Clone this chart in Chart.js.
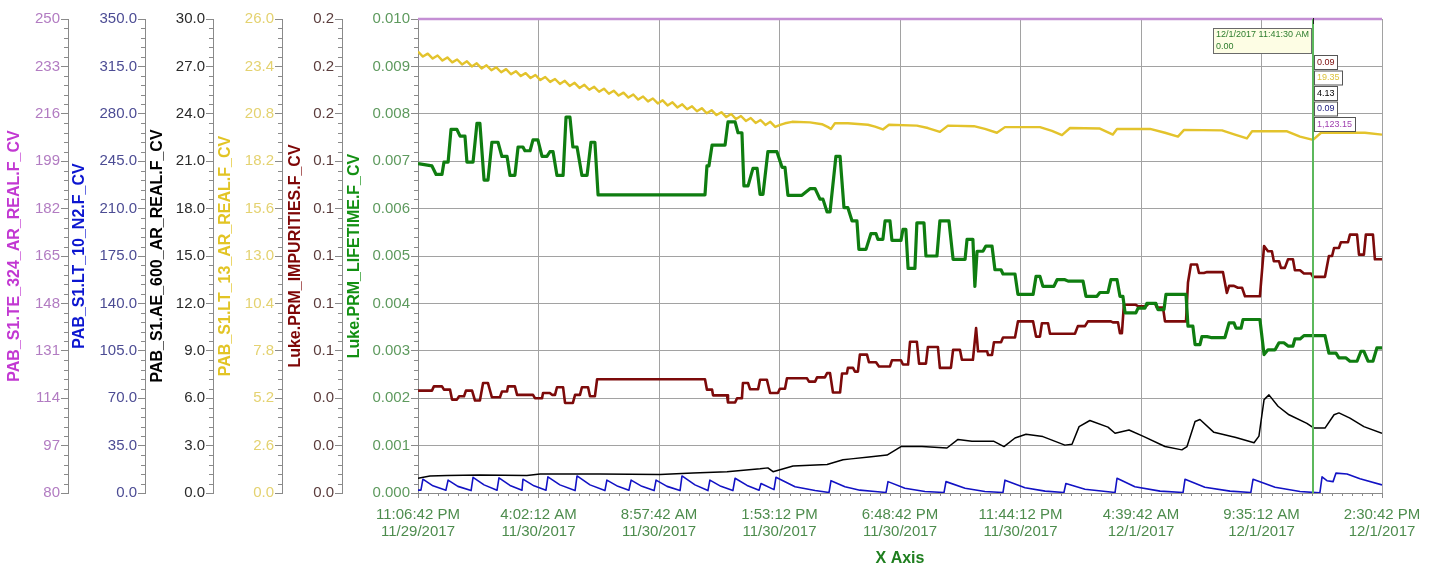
<!DOCTYPE html>
<html>
<head>
<meta charset="utf-8">
<title>PRM trend</title>
<script src="https://cdn.jsdelivr.net/npm/chart.js@4.4.1/dist/chart.umd.min.js"></script>
<style>
  html, body { margin: 0; padding: 0; background: #fff; }
</style>
</head>
<body>
<canvas id="trend" width="1442" height="568"></canvas>
<script>
// x values are hours after 11/29/2017 11:06:42 PM
const timeTicks = [0, 4.925, 9.85, 14.775, 19.7, 24.625, 29.55, 34.475, 39.4];
const timeLabels = [
  ["11:06:42 PM", "11/29/2017"],
  ["4:02:12 AM", "11/30/2017"],
  ["8:57:42 AM", "11/30/2017"],
  ["1:53:12 PM", "11/30/2017"],
  ["6:48:42 PM", "11/30/2017"],
  ["11:44:12 PM", "11/30/2017"],
  ["4:39:42 AM", "12/1/2017"],
  ["9:35:12 AM", "12/1/2017"],
  ["2:30:42 PM", "12/1/2017"],
];

const tempTicks = [80, 97, 114, 131, 148, 165, 182, 199, 216, 233, 250];
const n2Ticks = [0, 35, 70, 105, 140, 175, 210, 245, 280, 315, 350];
const aeTicks = [0, 3, 6, 9, 12, 15, 18, 21, 24, 27, 30];
const lt13Ticks = [0, 2.6, 5.2, 7.8, 10.4, 13, 15.6, 18.2, 20.8, 23.4, 26];
const impTicks = [0, 0.02, 0.04, 0.06, 0.08, 0.1, 0.12, 0.14, 0.16, 0.18, 0.2];
const lifeTicks = [0, 0.001, 0.002, 0.003, 0.004, 0.005, 0.006, 0.007, 0.008, 0.009, 0.01];

// [hours, value]
const lifetimePoints = [
  [0, 0.00695], [0.57, 0.0069], [0.74, 0.00672], [0.98, 0.00672], [1.06, 0.00698], [1.23, 0.00698],
  [1.35, 0.00767], [1.59, 0.00767], [1.72, 0.00753], [1.92, 0.00753], [2.0, 0.00698], [2.25, 0.00698],
  [2.41, 0.0078], [2.53, 0.0078], [2.7, 0.0066], [2.86, 0.0066], [3.02, 0.0074], [3.27, 0.0074],
  [3.43, 0.0071], [3.64, 0.0071], [3.76, 0.0067], [3.96, 0.0067], [4.09, 0.0073], [4.29, 0.0073],
  [4.37, 0.00722], [4.58, 0.00722], [4.7, 0.00745], [4.9, 0.00745], [5.07, 0.0071], [5.27, 0.0071],
  [5.39, 0.0072], [5.52, 0.0072], [5.68, 0.0067], [5.93, 0.0067], [6.05, 0.00793], [6.21, 0.00793],
  [6.33, 0.0073], [6.5, 0.0073], [6.7, 0.0067], [6.91, 0.0067], [7.07, 0.0074], [7.23, 0.0074],
  [7.36, 0.00629], [11.73, 0.00629], [11.81, 0.0069], [11.89, 0.0069], [12.02, 0.00734], [12.55, 0.00734],
  [12.67, 0.00783], [12.96, 0.00783], [13.08, 0.0076], [13.24, 0.0076], [13.32, 0.00648], [13.49, 0.00648],
  [13.69, 0.00685], [13.86, 0.00685], [13.98, 0.0063], [14.1, 0.0063], [14.3, 0.0072], [14.67, 0.0072],
  [14.88, 0.00687], [15.0, 0.00687], [15.12, 0.00628], [15.69, 0.00628], [16.02, 0.00642], [16.23, 0.00642],
  [16.43, 0.0062], [16.55, 0.0062], [16.72, 0.00593], [16.84, 0.00593], [17.08, 0.0071], [17.25, 0.0071],
  [17.41, 0.00602], [17.57, 0.00602], [17.74, 0.00574], [17.94, 0.00574], [18.02, 0.00514], [18.31, 0.00514],
  [18.51, 0.00547], [18.72, 0.00547], [18.8, 0.00535], [19.0, 0.00535], [19.09, 0.00574], [19.29, 0.00574],
  [19.37, 0.00533], [19.74, 0.00533], [19.82, 0.00556], [19.94, 0.00556], [20.03, 0.00474], [20.31, 0.00474],
  [20.39, 0.0057], [20.68, 0.0057], [20.76, 0.005], [21.21, 0.005], [21.33, 0.00574], [21.7, 0.00574],
  [21.87, 0.00493], [22.36, 0.00493], [22.44, 0.00535], [22.68, 0.00535], [22.76, 0.00436], [22.85, 0.0051],
  [23.09, 0.0051], [23.21, 0.00521], [23.46, 0.00521], [23.58, 0.00471], [23.83, 0.00471], [23.91, 0.00462],
  [24.4, 0.00462], [24.52, 0.00419], [25.14, 0.00419], [25.26, 0.00457], [25.42, 0.00457], [25.54, 0.00436],
  [25.99, 0.00436], [26.12, 0.0045], [26.44, 0.0045], [26.57, 0.00447], [27.18, 0.00447], [27.3, 0.00415],
  [27.75, 0.00415], [27.87, 0.00423], [28.2, 0.00423], [28.32, 0.0045], [28.57, 0.0045], [28.69, 0.00415],
  [28.81, 0.00415], [28.9, 0.0038], [29.34, 0.0038], [29.43, 0.0039], [29.71, 0.0039], [29.79, 0.004],
  [30.16, 0.004], [30.24, 0.00387], [30.49, 0.00387], [30.57, 0.00419], [31.39, 0.00419], [31.47, 0.00352],
  [31.67, 0.00352], [31.76, 0.00313], [31.96, 0.00313], [32.04, 0.0033], [32.25, 0.0033], [32.41, 0.00328],
  [32.98, 0.00328], [33.15, 0.00359], [33.35, 0.00359], [33.43, 0.00348], [33.64, 0.00348], [33.72, 0.00366],
  [34.41, 0.00366], [34.58, 0.00292], [34.74, 0.00302], [35.03, 0.00302], [35.19, 0.00317], [35.39, 0.00317],
  [35.56, 0.0031], [35.76, 0.0031], [35.84, 0.00325], [36.05, 0.00325], [36.21, 0.00332], [37.07, 0.00332],
  [37.23, 0.00295], [37.52, 0.00295], [37.64, 0.00285], [37.93, 0.00285], [38.09, 0.00278], [38.38, 0.00278],
  [38.54, 0.00299], [38.66, 0.00299], [38.83, 0.00278], [39.03, 0.00278], [39.19, 0.00306], [39.4, 0.00306],
];

const impurityPoints = [
  [0, 0.0432], [0.57, 0.0432], [0.65, 0.045], [0.98, 0.045], [1.06, 0.0436], [1.31, 0.0436],
  [1.39, 0.0394], [1.59, 0.0394], [1.68, 0.0408], [1.88, 0.0408], [1.96, 0.0432], [2.21, 0.0432],
  [2.33, 0.039], [2.53, 0.039], [2.66, 0.0464], [2.86, 0.0464], [3.02, 0.0404], [3.35, 0.0404],
  [3.43, 0.0428], [3.64, 0.0428], [3.68, 0.045], [3.96, 0.045], [4.05, 0.0414], [4.7, 0.0414],
  [4.78, 0.04], [5.07, 0.04], [5.11, 0.0422], [5.39, 0.0422], [5.48, 0.0414], [5.6, 0.0414],
  [5.68, 0.0446], [5.93, 0.0446], [6.01, 0.038], [6.33, 0.038], [6.42, 0.0414], [6.62, 0.0414],
  [6.7, 0.0446], [6.95, 0.0446], [7.03, 0.0408], [7.23, 0.0408], [7.32, 0.048], [11.73, 0.048],
  [11.81, 0.0436], [12.02, 0.0436], [12.06, 0.0412], [12.63, 0.0412], [12.67, 0.0382], [12.96, 0.0382],
  [13.04, 0.04], [13.24, 0.04], [13.28, 0.0464], [13.49, 0.0464], [13.57, 0.0438], [13.9, 0.0438],
  [13.98, 0.0478], [14.26, 0.0478], [14.39, 0.0422], [14.71, 0.0422], [14.79, 0.044], [15.0, 0.044],
  [15.08, 0.0484], [15.9, 0.0484], [15.98, 0.047], [16.23, 0.047], [16.31, 0.0488], [16.63, 0.0488],
  [16.72, 0.0506], [16.84, 0.0506], [16.96, 0.0424], [17.25, 0.0424], [17.33, 0.0504], [17.53, 0.0504],
  [17.57, 0.0528], [17.78, 0.0528], [17.86, 0.0512], [17.98, 0.0512], [18.06, 0.0584], [18.35, 0.0584],
  [18.43, 0.0552], [18.72, 0.0552], [18.84, 0.0534], [19.29, 0.0534], [19.37, 0.056], [19.74, 0.056],
  [19.82, 0.0542], [20.03, 0.0542], [20.11, 0.0638], [20.39, 0.0638], [20.48, 0.0546], [20.76, 0.0546],
  [20.84, 0.0616], [21.25, 0.0616], [21.33, 0.0528], [21.78, 0.0528], [21.87, 0.0604], [22.15, 0.0604],
  [22.23, 0.0562], [22.68, 0.0562], [22.81, 0.0696], [22.89, 0.0598], [23.26, 0.0598], [23.3, 0.0582],
  [23.46, 0.0582], [23.54, 0.0636], [23.83, 0.0636], [23.91, 0.0656], [24.4, 0.0656], [24.52, 0.0724],
  [25.14, 0.0724], [25.26, 0.066], [25.42, 0.066], [25.5, 0.0716], [25.75, 0.0716], [25.83, 0.0672],
  [26.85, 0.0672], [26.97, 0.0704], [27.26, 0.0704], [27.38, 0.0724], [28.32, 0.0724], [28.4, 0.072],
  [28.61, 0.072], [28.69, 0.0674], [28.77, 0.0674], [28.85, 0.0794], [29.34, 0.0794], [29.43, 0.0788],
  [29.75, 0.0788], [29.88, 0.08], [30.12, 0.08], [30.2, 0.0782], [30.45, 0.0782], [30.53, 0.0724],
  [31.39, 0.0724], [31.47, 0.0888], [31.59, 0.0964], [31.84, 0.0964], [31.92, 0.0928], [32.12, 0.0928],
  [32.25, 0.0932], [32.9, 0.0932], [33.06, 0.0844], [33.15, 0.0874], [33.35, 0.0874], [33.51, 0.0866],
  [33.68, 0.0866], [33.8, 0.083], [34.41, 0.083], [34.58, 0.1042], [34.74, 0.102], [34.9, 0.102],
  [34.98, 0.0978], [35.19, 0.0978], [35.27, 0.095], [35.43, 0.095], [35.56, 0.0986], [35.76, 0.0986],
  [35.84, 0.094], [36.05, 0.094], [36.21, 0.0926], [36.5, 0.0926], [36.58, 0.0912], [37.07, 0.0912],
  [37.23, 0.1], [37.36, 0.1], [37.44, 0.1034], [37.64, 0.1034], [37.72, 0.1058], [38.01, 0.1058],
  [38.09, 0.109], [38.38, 0.109], [38.46, 0.1006], [38.66, 0.1006], [38.74, 0.109], [39.03, 0.109],
  [39.11, 0.0986], [39.4, 0.0986],
];

const lt13Points = [
  [0, 24.21], [0.2, 23.94], [0.4, 24.1], [0.6, 23.83], [0.8, 24.0], [1.0, 23.72], [1.2, 23.89],
  [1.4, 23.62], [1.6, 23.78], [1.8, 23.51], [2.0, 23.68], [2.2, 23.4], [2.4, 23.57], [2.6, 23.29],
  [2.8, 23.46], [3.0, 23.19], [3.2, 23.35], [3.4, 23.08], [3.6, 23.25], [3.8, 22.97], [4.0, 23.14],
  [4.2, 22.87], [4.4, 23.03], [4.6, 22.76], [4.8, 22.93], [5.0, 22.65], [5.2, 22.82], [5.4, 22.55],
  [5.6, 22.71], [5.8, 22.44], [6.0, 22.61], [6.2, 22.33], [6.4, 22.5], [6.6, 22.22], [6.8, 22.39],
  [7.0, 22.12], [7.2, 22.28], [7.4, 22.01], [7.6, 22.18], [7.8, 21.9], [8.0, 22.07], [8.2, 21.8],
  [8.4, 21.96], [8.6, 21.69], [8.8, 21.86], [9.0, 21.58], [9.2, 21.75], [9.4, 21.48], [9.6, 21.64],
  [9.8, 21.37], [10.0, 21.54], [10.2, 21.26], [10.4, 21.43], [10.6, 21.15], [10.8, 21.32], [11.0, 21.05],
  [11.2, 21.21], [11.4, 20.94], [11.6, 21.11], [11.8, 20.83], [12.0, 21.0], [12.2, 20.73], [12.4, 20.89],
  [12.6, 20.62], [12.8, 20.79], [13.0, 20.51], [13.2, 20.68], [13.4, 20.41], [13.6, 20.57], [13.8, 20.3],
  [14.0, 20.46], [14.2, 20.19], [14.4, 20.36], [14.6, 20.08], [14.8, 20.19], [15.0, 20.28], [15.29, 20.36],
  [16.02, 20.33], [16.51, 20.23], [16.76, 20.07], [16.88, 19.97], [17.04, 20.28], [17.57, 20.28],
  [18.39, 20.2], [18.68, 20.1], [19.0, 19.94], [19.25, 20.2], [20.39, 20.15], [20.84, 20.02],
  [21.33, 19.81], [21.66, 20.15], [22.72, 20.12], [23.17, 19.97], [23.66, 19.76], [23.99, 20.07],
  [25.42, 20.07], [25.91, 19.86], [26.32, 19.63], [26.65, 20.02], [27.87, 19.99], [28.4, 19.66],
  [28.57, 19.97], [29.92, 19.97], [30.53, 19.76], [31.06, 19.55], [31.31, 19.92], [32.86, 19.89],
  [33.39, 19.66], [33.88, 19.45], [34.09, 19.84], [35.52, 19.84], [36.05, 19.55], [36.58, 19.37],
  [36.91, 19.76], [38.7, 19.76], [39.4, 19.66],
];

const ae600Points = [
  [0, 0.93], [0.49, 1.08], [1.19, 1.11], [2.53, 1.14], [4.45, 1.11], [4.99, 1.2], [7.44, 1.2],
  [9.89, 1.17], [11.24, 1.26], [12.63, 1.35], [13.98, 1.53], [14.3, 1.59], [14.51, 1.35], [15.33, 1.71],
  [16.72, 1.8], [17.37, 2.1], [17.7, 2.16], [18.43, 2.28], [19.17, 2.4], [19.74, 2.94], [20.6, 2.94],
  [21.62, 2.85], [22.07, 3.39], [22.64, 3.27], [23.54, 3.27], [23.95, 2.94], [24.4, 3.48], [24.85, 3.72],
  [25.54, 3.57], [26.44, 3.03], [26.73, 3.09], [27.02, 4.2], [27.46, 4.59], [28.2, 4.17], [28.49, 3.78],
  [29.06, 3.99], [29.67, 3.57], [30.53, 2.94], [31.22, 2.73], [31.43, 2.94], [31.76, 4.53], [31.96, 4.65],
  [32.53, 3.84], [33.43, 3.51], [34.17, 3.18], [34.37, 3.6], [34.58, 5.91], [34.78, 6.21], [35.15, 5.49],
  [35.6, 4.95], [36.33, 4.41], [36.62, 4.11], [37.07, 4.11], [37.44, 4.95], [37.64, 5.07], [38.09, 4.74],
  [38.66, 4.2], [39.4, 3.78],
];

const n2Points = [
  [0, 2.1], [0.12, 2.1], [0.2, 10.2], [0.61, 5.3], [1.14, 2.1], [1.23, 9.5], [1.63, 4.9], [2.17, 1.8],
  [2.25, 11.6], [2.7, 6.0], [3.23, 2.1], [3.31, 11.2], [3.76, 5.6], [4.25, 2.1], [4.29, 10.2], [4.74, 5.3],
  [5.23, 2.1], [5.31, 11.9], [5.8, 6.0], [6.42, 1.8], [6.5, 12.6], [7.03, 6.0], [7.64, 1.8], [7.72, 9.5],
  [8.17, 4.9], [8.62, 2.1], [8.71, 9.5], [9.15, 4.9], [9.65, 1.8], [9.73, 9.5], [10.18, 4.9], [10.71, 1.8],
  [10.79, 12.6], [11.32, 6.0], [11.85, 1.8], [11.93, 9.5], [12.38, 4.9], [12.87, 1.8], [12.96, 10.9],
  [13.45, 5.6], [13.94, 2.1], [14.02, 7.0], [14.55, 2.5], [14.63, 11.6], [15.41, 4.6], [16.23, 1.8],
  [16.8, 0.4], [16.88, 9.1], [17.45, 4.6], [18.06, 2.1], [18.68, 1.1], [19.13, 0.4], [19.21, 8.4],
  [19.9, 3.5], [20.72, 1.1], [21.5, 0.4], [21.58, 8.4], [22.36, 3.5], [23.17, 1.1], [23.91, 0.4],
  [23.99, 9.5], [24.81, 3.9], [25.63, 1.4], [26.4, 0.4], [26.48, 7.0], [27.26, 2.8], [28.49, 0.4],
  [28.57, 10.9], [29.3, 4.6], [30.33, 1.4], [31.27, 0.4], [31.35, 10.2], [32.16, 4.2], [33.19, 1.4],
  [34.04, 0.4], [34.13, 10.2], [35.03, 4.2], [36.05, 1.1], [36.86, 0.1], [36.95, 11.9], [37.15, 9.1],
  [37.4, 8.4], [37.52, 14.7], [37.97, 14.0], [38.5, 10.5], [39.4, 6.0],
];

// far above its axis, so the trend pins it to the top edge
const tempPoints = [[0, 1123.15], [39.4, 1123.15]];

const cursorTime = 36.58;
const cursorStamp = ["12/1/2017 11:41:30 AM", "0.00"];
const cursorValues = ["0.09", "19.35", "4.13", "0.09", "1,123.15"];

const FONT = "Arial, 'Liberation Sans', sans-serif";
const lifeColor = "#0f7d10";
const impColor = "#7c0a0a";
const lt13Color = "#e3c32c";
const aeColor = "#000000";
const n2Color = "#1212c4";
const tempColor = "#c48fd4";
const cursorColors = ["#7c0a0a", "#dcc23c", "#000000", "#202080", "#a040b0"];

Chart.defaults.font.family = FONT;

function toXY(points, max) {
  return points.map((p) => ({ x: p[0], y: max === undefined ? p[1] : Math.min(p[1], max) }));
}

function yAxis(tickValues, decimals, title, titleColor, labelColor, width, titleCenter, weight) {
  return {
    type: "linear",
    position: "left",
    weight: weight,
    min: tickValues[0],
    max: tickValues[tickValues.length - 1],
    afterBuildTicks: (scale) => {
      scale.ticks = tickValues.map((v) => ({ value: v }));
    },
    afterFit: (scale) => {
      scale.width = width;
    },
    grid: { drawOnChartArea: false, tickLength: 7, tickColor: "#8a8a8a" },
    border: { color: "#8a8a8a" },
    ticks: {
      color: labelColor,
      padding: 1,
      font: { size: 15 },
      callback: (v) => Number(v).toFixed(decimals),
    },
    title: {
      display: true,
      text: title,
      color: titleColor,
      font: { size: 16, weight: "bold" },
      padding: { top: titleCenter - 9.6, bottom: 0 },
    },
  };
}

const minorTicksPlugin = {
  id: "minorTicks",
  afterDraw(chart) {
    const ctx = chart.ctx;
    ctx.save();
    ctx.strokeStyle = "#8a8a8a";
    ctx.lineWidth = 1;
    Object.values(chart.scales).forEach((scale) => {
      const ticks = scale.ticks;
      const parts = scale.axis === "x" ? 12 : 5;
      ctx.beginPath();
      for (let i = 0; i < ticks.length - 1; i++) {
        const a = ticks[i].value;
        const b = ticks[i + 1].value;
        for (let j = 1; j < parts; j++) {
          const p = Math.round(scale.getPixelForValue(a + ((b - a) * j) / parts)) + 0.5;
          if (scale.axis === "x") {
            ctx.moveTo(p, scale.top);
            ctx.lineTo(p, scale.top + 3);
          } else {
            ctx.moveTo(scale.right - 4, p);
            ctx.lineTo(scale.right, p);
          }
        }
      }
      ctx.stroke();
    });
    ctx.restore();
  },
};

const cursorPlugin = {
  id: "cursor",
  afterDatasetsDraw(chart) {
    const { ctx, chartArea, scales } = chart;
    const cx = Math.round(scales.x.getPixelForValue(cursorTime));
    ctx.save();
    ctx.strokeStyle = "#5cb85c";
    ctx.lineWidth = 2;
    ctx.beginPath();
    ctx.moveTo(cx, chartArea.top);
    ctx.lineTo(cx, chartArea.bottom);
    ctx.stroke();
    ctx.strokeStyle = "#222";
    ctx.lineWidth = 1;
    ctx.beginPath();
    ctx.moveTo(cx + 0.5, chartArea.top - 1);
    ctx.lineTo(cx + 0.5, chartArea.top + 5);
    ctx.stroke();

    ctx.font = "9px 'Liberation Sans', Arial, sans-serif";
    ctx.textBaseline = "middle";
    const w = Math.ceil(Math.max(ctx.measureText(cursorStamp[0]).width, ctx.measureText(cursorStamp[1]).width)) + 5;
    const bx = cx - 2 - w;
    const by = chartArea.top + 9;
    ctx.fillStyle = "#fdfde4";
    ctx.fillRect(bx, by, w, 25);
    ctx.strokeStyle = "#6a6a6a";
    ctx.strokeRect(bx + 0.5, by + 0.5, w, 25);
    ctx.fillStyle = "#2e7d2e";
    cursorStamp.forEach((t, i) => ctx.fillText(t, bx + 3, by + 7 + i * 12));

    cursorValues.forEach((t, i) => {
      const vw = Math.ceil(ctx.measureText(t).width) + 5;
      const vx = cx + 1;
      const vy = chartArea.top + 36 + i * 15.5;
      ctx.fillStyle = "#ffffff";
      ctx.fillRect(vx, vy, vw, 14);
      ctx.strokeStyle = "#555";
      ctx.strokeRect(vx + 0.5, vy + 0.5, vw, 14);
      ctx.fillStyle = cursorColors[i];
      ctx.fillText(t, vx + 3, vy + 7.5);
    });
    ctx.restore();
  },
};

const lineStyle = { pointRadius: 0, tension: 0, fill: false, borderJoinStyle: "round" };

var ctx = document.getElementById("trend");
new Chart(ctx, {
  type: "line",
  data: {
    datasets: [
      { ...lineStyle, label: "Luke.PRM_LIFETIME.F_CV", data: toXY(lifetimePoints), yAxisID: "yLife", borderColor: lifeColor, borderWidth: 3.2 },
      { ...lineStyle, label: "Luke.PRM_IMPURITIES.F_CV", data: toXY(impurityPoints), yAxisID: "yImp", borderColor: impColor, borderWidth: 2.6 },
      { ...lineStyle, label: "PAB_S1.LT_13_AR_REAL.F_CV", data: toXY(lt13Points), yAxisID: "yLt13", borderColor: lt13Color, borderWidth: 2.4 },
      { ...lineStyle, label: "PAB_S1.AE_600_AR_REAL.F_CV", data: toXY(ae600Points), yAxisID: "yAe", borderColor: aeColor, borderWidth: 1.5 },
      { ...lineStyle, label: "PAB_S1.LT_10_N2.F_CV", data: toXY(n2Points), yAxisID: "yN2", borderColor: n2Color, borderWidth: 1.6 },
      { ...lineStyle, label: "PAB_S1.TE_324_AR_REAL.F_CV", data: toXY(tempPoints, 250), yAxisID: "yTemp", borderColor: tempColor, borderWidth: 2.6, clip: 3 },
    ],
  },
  options: {
    responsive: false,
    animation: false,
    events: [],
    layout: { padding: { top: 19, right: 60, bottom: 0, left: 0 } },
    plugins: { legend: { display: false }, tooltip: { enabled: false } },
    scales: {
      x: {
        type: "linear",
        position: "bottom",
        min: 0,
        max: 39.4,
        afterBuildTicks: (scale) => {
          scale.ticks = timeTicks.map((v) => ({ value: v }));
        },
        afterFit: (scale) => {
          scale.height = 75;
        },
        grid: { color: "#a2a2a2", tickLength: 5, tickColor: "#8a8a8a" },
        border: { color: "#8a8a8a" },
        ticks: {
          color: "#4d8c4d",
          padding: 8.5,
          maxRotation: 0,
          autoSkip: false,
          font: { size: 15, lineHeight: 1.133 },
          callback: (v, i) => timeLabels[i],
        },
        title: { display: true, text: "X Axis", color: "#1f7f1f", font: { size: 16, weight: "bold" }, padding: 0 },
      },
      yTemp: yAxis(tempTicks, 0, "PAB_S1.TE_324_AR_REAL.F_CV", "#c238d2", "#b27cc2", 68, 15, 6),
      yN2: yAxis(n2Ticks, 1, "PAB_S1.LT_10_N2.F_CV", "#0c16d0", "#4c4c94", 77, 12, 5),
      yAe: yAxis(aeTicks, 1, "PAB_S1.AE_600_AR_REAL.F_CV", "#000000", "#2a2a2a", 68, 12.5, 4),
      yLt13: yAxis(lt13Ticks, 1, "PAB_S1.LT_13_AR_REAL.F_CV", "#e2c424", "#e4d270", 69, 12.5, 3),
      yImp: yAxis(impTicks, 1, "Luke.PRM_IMPURITIES.F_CV", "#7e0606", "#5a3c3c", 60, 13.7, 2),
      yLife: Object.assign(yAxis(lifeTicks, 3, "Luke.PRM_LIFETIME.F_CV", "#139013", "#5e9a5e", 76, 12.5, 1), {
        grid: { drawOnChartArea: true, color: "#a2a2a2", tickLength: 7, tickColor: "#8a8a8a" },
      }),
    },
  },
  plugins: [minorTicksPlugin, cursorPlugin],
});
</script>
</body>
</html>
